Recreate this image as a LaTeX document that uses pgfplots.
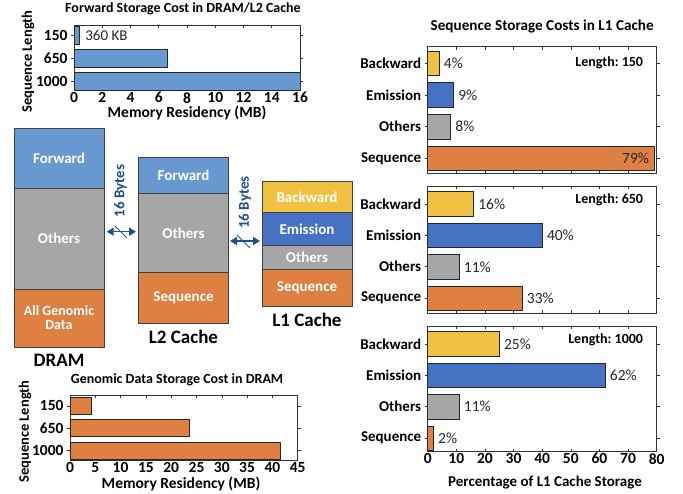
\documentclass[border=0pt]{standalone}
\usepackage{pgfplots}
\pgfplotsset{compat=1.18}
\usepackage{fontspec}
\setmainfont{Carlito}
\usetikzlibrary{arrows.meta}
\definecolor{fwd}{RGB}{104,152,208}
\definecolor{oth}{RGB}{166,166,166}
\definecolor{org}{RGB}{221,128,66}
\definecolor{yel}{RGB}{240,193,66}
\definecolor{emi}{RGB}{70,114,196}
\definecolor{arr}{RGB}{30,80,145}
\newcommand{\fs}[1]{\fontsize{#1}{#1}\selectfont}
\pgfplotsset{
  base/.style={
    scale only axis, anchor=south west,
    axis line style={black!80, line width=0.8pt},
    tick style={black!80, line width=0.6pt},
    major tick length=3pt, tick align=inside,
    tick label style={font=\fs{15.5}\bfseries},
    xticklabel style={inner sep=1.5pt},
    xbar, xmin=0,
    title style={font=\fs{14}\bfseries, anchor=base},
    xlabel style={font=\fs{15.5}\bfseries, anchor=base},
    ylabel style={font=\fs{14.5}\bfseries, anchor=center},
  },
  barst/.style={draw=black!85, line width=0.6pt, bar shift=0pt},
  pct/.style={nodes near coords={\pgfmathprintnumber[assume math mode=true]{\pgfplotspointmeta}\%}, point meta=x,
    every node near coord/.append style={anchor=west, inner sep=0pt, xshift=4.5pt, font=\fs{15.5}, text=black!85}},
  right/.style={base, width=229pt, xmax=80, xtick={0,10,...,80},
    ytick={1,2,3,4}, yticklabels={Sequence,Others,Emission,Backward},
    yticklabel style={font=\fs{15}\bfseries}, bar width=24.5pt},
}
\begin{document}
\begin{tikzpicture}
\path[use as bounding box] (0pt,0pt) rectangle (683pt,493pt);

% ---- Top-left: forward storage
\begin{axis}[base, at={(74pt,402.3pt)}, width=226pt, height=65.7pt,
  xmax=16, xtick={0,2,...,16}, xticklabels={0,2,4,6,8,10,12,14,16},
  ymin=0.58, ymax=3.46,
  ytick={1,2,3}, yticklabels={1000,650,150}, bar width=18pt,
  title={Forward Storage Cost in DRAM/L2 Cache},
  title style={at={(axis description cs:0.5,1)}, yshift=6.7pt, xshift=-4pt},
  xlabel={Memory Residency (MB)},
  xlabel style={at={(axis description cs:0.5,0)}, yshift=-26.6pt},
  ylabel={Sequence Length},
  ylabel style={at={(axis description cs:-0.2035,0.445)}}]
\addplot[barst, fill=fwd] coordinates {(0.35,3) (6.6,2) (16,1)};
\node[anchor=west, font=\fs{15}, text=black!85] at (axis cs:0.55,3) {360 KB};
\end{axis}

% ---- Bottom-left: genomic data
\begin{axis}[base, at={(70pt,32.3pt)}, width=227.7pt, height=65.7pt,
  xmax=45, xtick={0,5,...,45}, xticklabels={0,5,10,15,20,25,30,35,40,45},
  ymin=0.55, ymax=3.49,
  ytick={1,2,3}, yticklabels={1000,650,150}, bar width=17pt,
  title={Genomic Data Storage Cost in DRAM},
  title style={at={(axis description cs:0.5,1)}, yshift=5.7pt, xshift=-6.8pt},
  xlabel={Memory Residency (MB)},
  xlabel style={at={(axis description cs:0.5,0)}, yshift=-27.6pt, xshift=-2.8pt},
  ylabel={Sequence Length},
  ylabel style={at={(axis description cs:-0.1976,0.445)}}]
\addplot[barst, fill=org] coordinates {(4.3,3) (23.5,2) (41.5,1)};
\end{axis}

% ---- Right top: length 150
\begin{axis}[right, at={(427.7pt,320pt)}, height=126.3pt, ymin=0.54, ymax=4.52,
  xticklabels={},
  title={Sequence Storage Costs in L1 Cache},
  title style={at={(axis description cs:0.5,1)}, yshift=10pt, font=\fs{15.2}\bfseries}]
\addplot[barst, fill=yel, pct] coordinates {(4,4)};
\addplot[barst, fill=emi, pct] coordinates {(9,3)};
\addplot[barst, fill=oth, pct] coordinates {(8,2)};
\addplot[barst, fill=org, pct, every node near coord/.append style={anchor=east, xshift=-9pt}] coordinates {(79,1)};
\node[anchor=east, font=\fs{14}\bfseries] at (axis description cs:0.956,0.871) {Length:\ 150};
\end{axis}

% ---- Right middle: length 650
\begin{axis}[right, at={(427.7pt,180pt)}, height=127pt, ymin=0.53, ymax=4.57,
  xticklabels={}]
\addplot[barst, fill=yel, pct] coordinates {(16,4)};
\addplot[barst, fill=emi, pct] coordinates {(40,3)};
\addplot[barst, fill=oth, pct] coordinates {(11,2)};
\addplot[barst, fill=org, pct] coordinates {(33,1)};
\node[anchor=east, font=\fs{14}\bfseries] at (axis description cs:0.956,0.89) {Length:\ 650};
\end{axis}

% ---- Right bottom: length 1000
\begin{axis}[right, at={(427.7pt,41.3pt)}, height=125.7pt, ymin=0.57, ymax=4.57,
  xticklabels={0,10,20,30,40,50,60,70,80},
  xlabel={Percentage of L1 Cache Storage},
  xlabel style={at={(axis description cs:0.5,0)}, yshift=-34.3pt, xshift=2.8pt, font=\fs{15}\bfseries}]
\addplot[barst, fill=yel, pct] coordinates {(25,4)};
\addplot[barst, fill=emi, pct] coordinates {(62,3)};
\addplot[barst, fill=oth, pct] coordinates {(11,2)};
\addplot[barst, fill=org, pct] coordinates {(2,1)};
\node[anchor=east, font=\fs{14}\bfseries] at (axis description cs:0.956,0.889) {Length:\ 1000};
\end{axis}

% ---- Memory hierarchy diagram
\tikzset{blk/.style={draw=black!75, line width=0.7pt},
         bt/.style={text=white, font=\fs{15}\bfseries, align=center}}
% DRAM
\fill[fwd] (14pt,305pt) rectangle (104pt,364.7pt);
\fill[oth] (14pt,204pt) rectangle (104pt,305pt);
\fill[org] (14pt,145.3pt) rectangle (104pt,204pt);
\draw[blk] (14pt,145.3pt) rectangle (104pt,364.7pt);
\draw[blk] (14pt,305pt) -- (104pt,305pt) (14pt,204pt) -- (104pt,204pt);
\node[bt] at (59pt,335pt) {Forward};
\node[bt] at (59pt,255pt) {Others};
\node[bt, font=\fs{14}\bfseries] at (59pt,175pt) {All Genomic\\Data};
\node[font=\fs{19}\bfseries] at (59pt,133pt) {DRAM};
% L2
\fill[fwd] (138.3pt,299.7pt) rectangle (228.7pt,335.7pt);
\fill[oth] (138.3pt,220.3pt) rectangle (228.7pt,299.7pt);
\fill[org] (138.3pt,169.7pt) rectangle (228.7pt,220.3pt);
\draw[blk] (138.3pt,169.7pt) rectangle (228.7pt,335.7pt);
\draw[blk] (138.3pt,299.7pt) -- (228.7pt,299.7pt) (138.3pt,220.3pt) -- (228.7pt,220.3pt);
\node[bt] at (183.5pt,317.7pt) {Forward};
\node[bt] at (183.5pt,260pt) {Others};
\node[bt] at (183.5pt,195pt) {Sequence};
\node[font=\fs{19}\bfseries] at (183.5pt,156.3pt) {L2 Cache};
% L1
\fill[yel] (262pt,280.3pt) rectangle (352.3pt,312pt);
\fill[emi] (262pt,248pt) rectangle (352.3pt,280.3pt);
\fill[oth] (262pt,223.7pt) rectangle (352.3pt,248pt);
\fill[org] (262pt,186.3pt) rectangle (352.3pt,223.7pt);
\draw[blk] (262pt,186.3pt) rectangle (352.3pt,312pt);
\draw[blk] (262pt,280.3pt) -- (352.3pt,280.3pt) (262pt,248pt) -- (352.3pt,248pt) (262pt,223.7pt) -- (352.3pt,223.7pt);
\node[bt] at (307pt,296pt) {Backward};
\node[bt] at (307pt,264pt) {Emission};
\node[bt] at (307pt,235.8pt) {Others};
\node[bt] at (307pt,205pt) {Sequence};
\node[font=\fs{19}\bfseries] at (307pt,173pt) {L1 Cache};
% arrows
\draw[arr, line width=1.5pt, {Triangle[length=7pt,width=8pt]}-{Triangle[length=7pt,width=8pt]}] (106.7pt,261.3pt) -- (136pt,261.3pt);
\draw[arr, line width=0.8pt] (115pt,267pt) -- (127pt,255pt);
\node[rotate=90, text=arr, font=\fs{15}\bfseries] at (120.5pt,302.2pt) {16 Bytes};
\draw[arr, line width=1.5pt, {Triangle[length=7pt,width=8pt]}-{Triangle[length=7pt,width=8pt]}] (230pt,252pt) -- (260pt,252pt);
\draw[arr, line width=0.8pt] (237pt,258pt) -- (250pt,245pt);
\node[rotate=90, text=arr, font=\fs{15}\bfseries] at (245pt,290.5pt) {16 Bytes};
\end{tikzpicture}
\end{document}
